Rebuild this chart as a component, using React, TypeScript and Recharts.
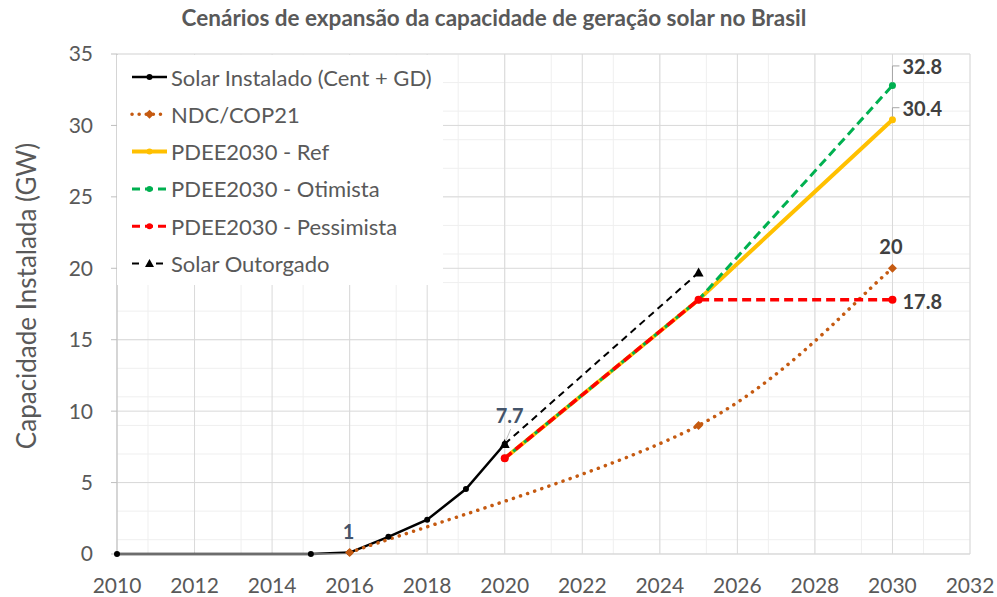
import { LineChart, Line, XAxis, YAxis, CartesianGrid, Legend, Label } from "recharts";

// axis ticks
const xTicks = [2010, 2012, 2014, 2016, 2018, 2020, 2022, 2024, 2026, 2028, 2030, 2032];
const yTicks = [0, 5, 10, 15, 20, 25, 30, 35];

// series (GW)
const instaladoYears = [2010, 2015, 2016, 2017, 2018, 2019, 2020];
const instaladoGW = [0, 0, 0.1, 1.2, 2.4, 4.55, 7.7];

const ndcYears = [2016, 2025, 2030];
const ndcGW = [0.1, 9, 20];

const pdeeYears = [2020, 2025, 2030];
const refGW = [6.7, 17.8, 30.4];
const otimistaGW = [6.7, 17.8, 32.8];
const pessimistaGW = [6.7, 17.8, 17.8];

const outorgadoYears = [2020, 2025];
const outorgadoGW = [7.7, 19.7];

const seriesNames = [
  "Solar Instalado (Cent + GD)",
  "NDC/COP21",
  "PDEE2030 - Ref",
  "PDEE2030 - Otimista",
  "PDEE2030 - Pessimista",
  "Solar Outorgado",
];

// data labels shown on the chart
const labelSeries = ["instalado", "instalado", "ndc", "otimista", "ref", "pessimista"];
const labelYears = [2016, 2020, 2030, 2030, 2030, 2030];
const labelTexts = ["1", "7.7", "20", "32.8", "30.4", "17.8"];

const toPoints = (xs: number[], ys: number[]) => xs.map((x, i) => ({ x, y: ys[i] }));

const instaladoData = toPoints(instaladoYears, instaladoGW);
const ndcData = toPoints(ndcYears, ndcGW);
const refData = toPoints(pdeeYears, refGW);
const otimistaData = toPoints(pdeeYears, otimistaGW);
const pessimistaData = toPoints(pdeeYears, pessimistaGW);
const outorgadoData = toPoints(outorgadoYears, outorgadoGW);

const minorX: number[] = [];
for (let i = 0; i <= 55; i++) minorX.push(2010 + i * 0.4);
const minorY: number[] = [];
for (let i = 0; i <= 35; i++) minorY.push(i);

const GRAY = "#595959";
const BROWN = "#C55A11";
const FONT = "Lato, 'Noto Sans', sans-serif";

// Excel-like smoothed line (cardinal bezier through the points)
function excelSmooth(context: any) {
  let pts: number[][] = [];
  return {
    areaStart() {},
    areaEnd() {},
    lineStart() {
      pts = [];
    },
    point(x: number, y: number) {
      pts.push([+x, +y]);
    },
    lineEnd() {
      const n = pts.length;
      if (!n) return;
      context.moveTo(pts[0][0], pts[0][1]);
      for (let i = 0; i < n - 1; i++) {
        const p0 = pts[Math.max(i - 1, 0)];
        const p1 = pts[i];
        const p2 = pts[i + 1];
        const p3 = pts[Math.min(i + 2, n - 1)];
        context.bezierCurveTo(
          p1[0] + (p2[0] - p0[0]) / 6,
          p1[1] + (p2[1] - p0[1]) / 6,
          p2[0] - (p3[0] - p1[0]) / 6,
          p2[1] - (p3[1] - p1[1]) / 6,
          p2[0],
          p2[1]
        );
      }
    },
  };
}

const diamond = (cx: number, cy: number, s: number, fill: string, key?: any) => (
  <path key={key} d={`M${cx},${cy - s}L${cx + s},${cy}L${cx},${cy + s}L${cx - s},${cy}Z`} fill={fill} />
);
const triangle = (cx: number, cy: number, s: number, fill: string, key?: any) => (
  <path key={key} d={`M${cx},${cy - s}L${cx + s},${cy + s * 0.8}L${cx - s},${cy + s * 0.8}Z`} fill={fill} />
);

const ndcDot = (props: any) => {
  const { cx, cy, index } = props;
  return diamond(cx, cy, 4.5, BROWN, `ndc-${index}`);
};
const outorgadoDot = (props: any) => {
  const { cx, cy, index } = props;
  return triangle(cx, cy, 5, "#000", `out-${index}`);
};

const yearsFor: Record<string, number[]> = {
  instalado: instaladoYears,
  ndc: ndcYears,
  ref: pdeeYears,
  otimista: pdeeYears,
  pessimista: pdeeYears,
};

const makeLabel = (series: string) => (props: any) => {
  const { x, y, index } = props;
  const year = yearsFor[series][index];
  const i = labelSeries.findIndex((s, k) => s === series && labelYears[k] === year);
  if (i < 0) return <g key={`${series}-${index}`} />;
  const text = labelTexts[i];
  const bold = { fontFamily: FONT, fontWeight: 700, fontSize: 20 };
  if (series === "instalado" && year === 2016)
    return (
      <text key={`${series}-${index}`} x={x - 1} y={y - 22} textAnchor="middle" dominantBaseline="central" fill="#44546A" {...bold}>
        {text}
      </text>
    );
  if (series === "instalado")
    return (
      <g key={`${series}-${index}`}>
        <path d={`M${x + 1},${y - 3}L${x + 6},${y - 15}`} stroke="#BFBFBF" strokeWidth={1} />
        <text x={x + 5} y={y - 29} textAnchor="middle" dominantBaseline="central" fill="#44546A" {...bold}>
          {text}
        </text>
      </g>
    );
  if (series === "ndc")
    return (
      <text key={`${series}-${index}`} x={x - 1.5} y={y - 22} textAnchor="middle" dominantBaseline="central" fill="#404040" {...bold}>
        {text}
      </text>
    );
  if (series === "pessimista")
    return (
      <text key={`${series}-${index}`} x={x + 10} y={y + 1.5} textAnchor="start" dominantBaseline="central" fill="#404040" {...bold}>
        {text}
      </text>
    );
  const rise = series === "otimista" ? 19.5 : 12;
  return (
    <g key={`${series}-${index}`}>
      <path d={`M${x},${y - 3}V${y - rise}H${x + 7}`} stroke="#A6A6A6" strokeWidth={1} fill="none" />
      <text x={x + 10} y={y - rise} textAnchor="start" dominantBaseline="central" fill="#404040" {...bold}>
        {text}
      </text>
    </g>
  );
};

const legendStyles = [
  { stroke: "#000", width: 2.5, dash: undefined, cap: "butt", marker: "dot" },
  { stroke: BROWN, width: 3.5, dash: "0.1 7", cap: "round", marker: "diamond" },
  { stroke: "#FFC000", width: 4, dash: undefined, cap: "butt", marker: "dot" },
  { stroke: "#00B050", width: 3, dash: "8 5", cap: "butt", marker: "dot" },
  { stroke: "#FF0000", width: 3, dash: "8 5", cap: "butt", marker: "dot" },
  { stroke: "#000", width: 2, dash: "7 17", cap: "butt", marker: "triangle" },
];

const LegendBox = () => (
  <svg width={326} height={230} style={{ display: "block", background: "#fff" }}>
    {seriesNames.map((name, i) => {
      const st = legendStyles[i];
      const cy = 22 + i * 37.3;
      return (
        <g key={name}>
          <line x1={15} x2={50} y1={cy} y2={cy} stroke={st.stroke} strokeWidth={st.width} strokeDasharray={st.dash} strokeLinecap={st.cap as any} />
          {st.marker === "dot" && <circle cx={32.5} cy={cy} r={3} fill={st.stroke} />}
          {st.marker === "diamond" && diamond(32.5, cy, 4.5, BROWN)}
          {st.marker === "triangle" && triangle(32.5, cy, 4.5, "#000")}
          <text x={54} y={cy} dominantBaseline="central" fill={GRAY} fontFamily={FONT} fontSize={22}>
            {name}
          </text>
        </g>
      );
    })}
  </svg>
);

export default function App() {
  return (
    <div style={{ position: "relative", width: 997, height: 597, background: "#fff", fontFamily: FONT }}>
      <style>{`body{margin:0}`}</style>
      <div
        style={{
          position: "absolute",
          top: 4,
          left: 0,
          width: 988,
          textAlign: "center",
          fontSize: 22.5,
          fontWeight: 700,
          color: GRAY,
          lineHeight: "28px",
        }}
      >
        Cenários de expansão da capacidade de geração solar no Brasil
      </div>
      <LineChart width={997} height={597} margin={{ top: 54, right: 27, left: 0, bottom: 0 }}>
        <CartesianGrid stroke="#EFEFEF" horizontalValues={minorY} verticalValues={minorX} />
        <CartesianGrid stroke="#D9D9D9" horizontalValues={yTicks} verticalValues={xTicks} />
        <XAxis
          type="number"
          dataKey="x"
          domain={[2010, 2032]}
          ticks={xTicks}
          height={43}
          tickLine={false}
          tickSize={0}
          tickMargin={24}
          axisLine={{ stroke: "#D9D9D9" }}
          tick={{ fill: GRAY, fontSize: 21, fontFamily: FONT }}
          allowDuplicatedCategory={false}
        />
        <YAxis
          type="number"
          domain={[0, 35]}
          ticks={yTicks}
          width={117}
          tickSize={6}
          tickMargin={18}
          tickLine={{ stroke: "#BFBFBF" }}
          axisLine={{ stroke: "#BFBFBF" }}
          tick={{ fill: GRAY, fontSize: 21, fontFamily: FONT }}
        >
          <Label
            content={(props: any) => {
              const vb = props.viewBox || { x: 0, y: 54, width: 117, height: 500 };
              const cx = vb.x + 26;
              const cy = vb.y + vb.height / 2 - 8;
              return (
                <text
                  x={cx}
                  y={cy}
                  transform={`rotate(-90 ${cx} ${cy})`}
                  textAnchor="middle"
                  dominantBaseline="central"
                  fill={GRAY}
                  fontFamily={FONT}
                  fontSize={26}
                >
                  Capacidade Instalada (GW)
                </text>
              );
            }}
          />
        </YAxis>
        <Legend
          layout="horizontal"
          verticalAlign="middle"
          align="center"
          wrapperStyle={{ left: 117, top: 55, width: 326, height: 230 }}
          content={() => <LegendBox />}
        />
        <Line
          data={instaladoData}
          dataKey="y"
          name={seriesNames[0]}
          type="linear"
          stroke="#000"
          strokeWidth={2.5}
          dot={{ r: 3, fill: "#000", stroke: "#000", strokeWidth: 0 }}
          label={makeLabel("instalado")}
          isAnimationActive={false}
        />
        <Line
          data={ndcData}
          dataKey="y"
          name={seriesNames[1]}
          type={excelSmooth as any}
          stroke={BROWN}
          strokeWidth={3.5}
          strokeDasharray="0.1 7.4"
          strokeLinecap="round"
          dot={ndcDot}
          label={makeLabel("ndc")}
          isAnimationActive={false}
        />
        <Line
          data={refData}
          dataKey="y"
          name={seriesNames[2]}
          type="linear"
          stroke="#FFC000"
          strokeWidth={4}
          dot={{ r: 3.5, fill: "#FFC000", stroke: "#FFC000", strokeWidth: 0 }}
          label={makeLabel("ref")}
          isAnimationActive={false}
        />
        <Line
          data={otimistaData}
          dataKey="y"
          name={seriesNames[3]}
          type="linear"
          stroke="#00B050"
          strokeWidth={3}
          strokeDasharray="9 5"
          strokeDashoffset={3}
          dot={{ r: 3.5, fill: "#00B050", stroke: "#00B050", strokeWidth: 0 }}
          label={makeLabel("otimista")}
          isAnimationActive={false}
        />
        <Line
          data={pessimistaData}
          dataKey="y"
          name={seriesNames[4]}
          type="linear"
          stroke="#FF0000"
          strokeWidth={3.5}
          strokeDasharray="9 5"
          dot={{ r: 4, fill: "#FF0000", stroke: "#FF0000", strokeWidth: 0 }}
          label={makeLabel("pessimista")}
          isAnimationActive={false}
        />
        <Line
          data={outorgadoData}
          dataKey="y"
          name={seriesNames[5]}
          type="linear"
          stroke="#000"
          strokeWidth={2}
          strokeDasharray="7 5"
          dot={outorgadoDot}
          isAnimationActive={false}
        />
      </LineChart>
    </div>
  );
}
